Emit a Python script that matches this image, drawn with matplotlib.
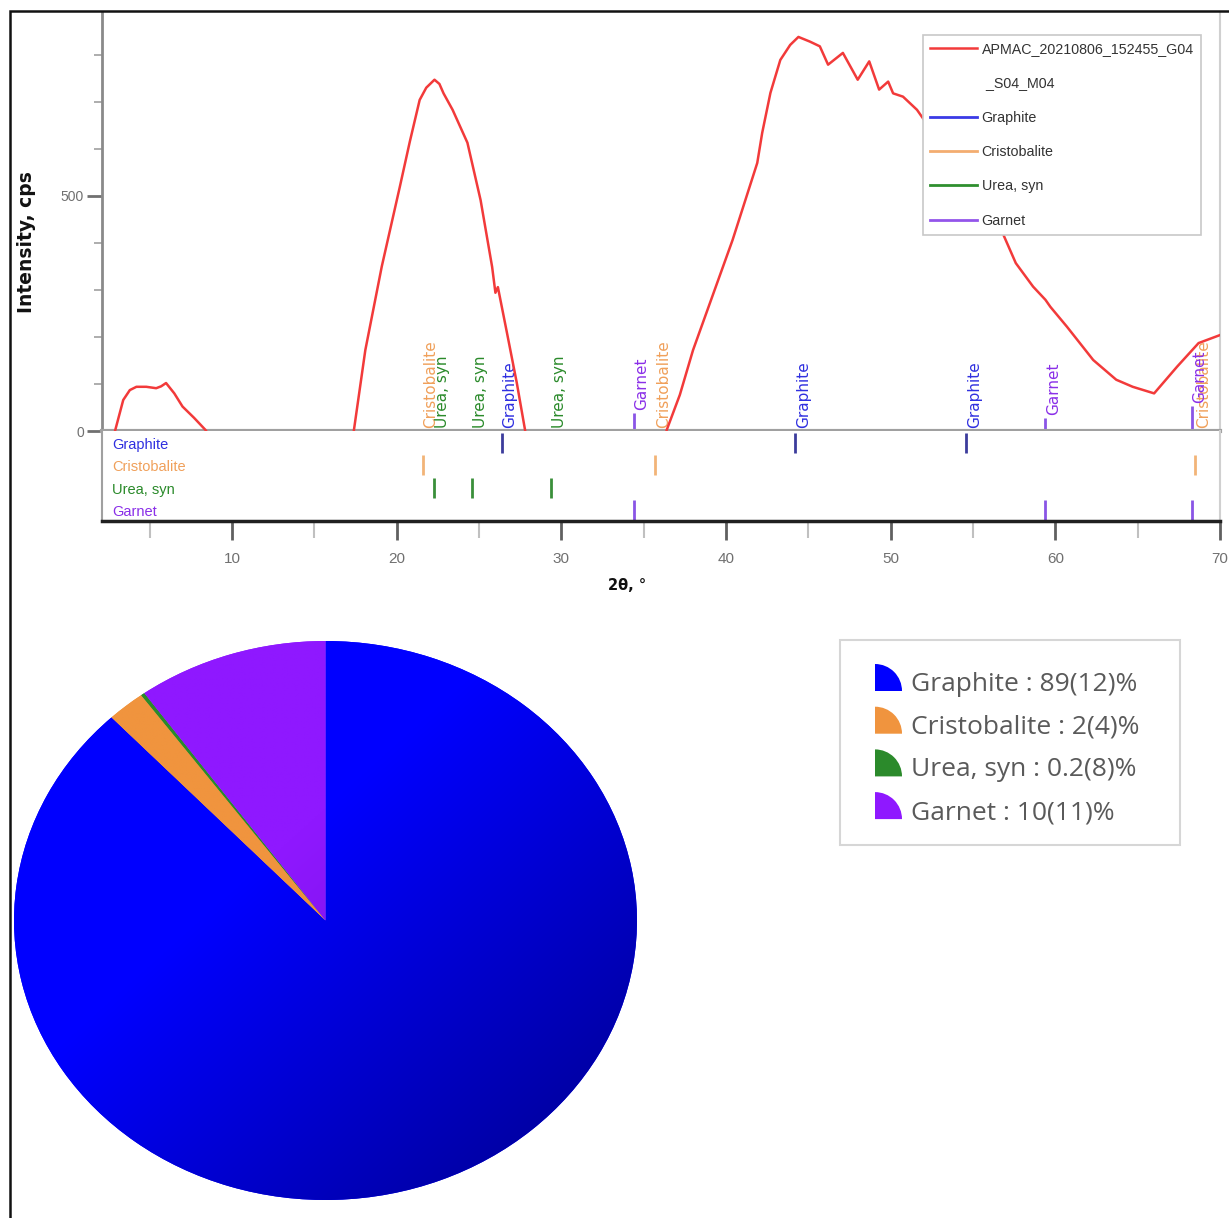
import numpy as np
import matplotlib
matplotlib.use('Agg')
import matplotlib.pyplot as plt
import matplotlib.transforms as mtransforms
from matplotlib.patches import Wedge, Rectangle
from matplotlib.lines import Line2D
from matplotlib.colors import to_rgb

W, H = 1229, 1218

two_theta = [2.6, 2.9, 3.4, 3.8, 4.2, 4.8, 5.4, 5.7, 6.0, 6.5, 7.0, 7.7, 8.4, 8.8,
             17.2, 17.4, 18.1, 19.1, 20.2, 20.8, 21.4, 21.8, 22.3, 22.6, 22.85, 23.4, 24.3,
             25.1, 25.8, 26.0, 26.15, 26.7, 27.3, 27.8, 28.0,
             36.2, 36.4, 37.2, 38.0, 39.2, 40.4, 41.9, 42.2, 42.7, 43.3, 43.9, 44.4,
             45.1, 45.7, 46.2, 47.1, 48.0, 48.7, 49.3, 49.85, 50.15, 50.75, 51.6, 52.6,
             54.0, 55.5, 56.8, 57.6, 58.65, 59.4, 59.7, 60.7, 62.3, 63.7, 64.7, 66.0,
             67.4, 68.7, 70.0]
intensity = [-40, 0, 66, 87, 94, 94, 91, 95, 102, 80, 52, 28, 2, -20,
             -30, 0, 172, 350, 520, 615, 704, 730, 747, 738, 718, 683, 613,
             491, 349, 294, 306, 209, 102, 2, -40,
             -40, 2, 77, 172, 289, 406, 570, 634, 719, 789, 821, 838,
             828, 818, 779, 804, 747, 786, 726, 743, 718, 711, 683, 633,
             570, 490, 421, 357, 307, 279, 264, 222, 151, 109, 94, 80,
             137, 187, 204]

phases = ['Graphite', 'Cristobalite', 'Urea, syn', 'Garnet']
graphite_peaks = [26.4, 44.2, 54.6]
cristobalite_peaks = [21.6, 35.7, 68.5]
urea_peaks = [22.3, 24.6, 29.4]
garnet_peaks = [34.4, 59.4, 68.3]
garnet_heights = [38, 28, 53]

fractions = [89, 2, 0.2, 10]
fraction_labels = ['Graphite : 89(12)%', 'Cristobalite : 2(4)%',
                   'Urea, syn : 0.2(8)%', 'Garnet : 10(11)%']

pattern_name = ['APMAC_20210806_152455_G04', ' _S04_M04']

label_colors = ['#2f2fe0', '#f0a05a', '#2a8a2a', '#8a2fe8']
stick_colors = ['#3c3c9c', '#f2b478', '#3a8f3a', '#8a55e6']
legend_colors = ['#3a3ae6', '#f3ad70', '#2f8f2f', '#9355ea']
pie_light = ['#0000ff', '#f0943e', '#2b8a2b', '#8f18ff']
pie_dark = ['#00009e', '#dd8436', '#1f701f', '#6608cc']

NARROW = 'Liberation Sans'
LEG = 'Open Sans'


def fx(px):
    return px / W


def fy(py):
    return 1 - py / H


fig = plt.figure(figsize=(W / 100, H / 100), dpi=100)

# ---- diffraction pattern ----
ax1 = fig.add_axes([fx(102), fy(431), fx(1220) - fx(102), fy(12) - fy(431)])
ax1.plot(two_theta, intensity, color='#f23a3a', lw=1.8, zorder=3)
ax1.set_xlim(2.11, 70)
ax1.set_ylim(0, 891)

peak_sets = [graphite_peaks, cristobalite_peaks, urea_peaks, garnet_peaks]
for i, (name, peaks) in enumerate(zip(phases, peak_sets)):
    heights = garnet_heights if name == 'Garnet' else [0] * len(peaks)
    ax1.vlines(peaks, 0, heights, color=stick_colors[i], lw=2, zorder=2)
    for p, ht in zip(peaks, heights):
        ax1.annotate(name, xy=(p, ht), xytext=(8, 3), textcoords='offset pixels',
                     rotation=90, ha='center', va='bottom', color=label_colors[i],
                     fontsize=11, zorder=2)

ax1.spines['top'].set_visible(False)
ax1.spines['left'].set_color('#8a8a8a')
ax1.spines['left'].set_linewidth(2)
ax1.spines['bottom'].set_color('#a0a0a0')
ax1.spines['bottom'].set_linewidth(3)
ax1.spines['right'].set_color('#d0d0d0')
ax1.spines['right'].set_linewidth(1.5)
ax1.set_xticks([])
ax1.set_yticks([0, 500])
ax1.set_yticks(np.arange(100, 900, 100), minor=True)
ax1.tick_params(axis='y', which='major', length=11, width=2, color='#707070',
                labelcolor='#707070', labelsize=10, pad=2)
ax1.tick_params(axis='y', which='minor', length=6, width=1.2, color='#a0a0a0')
for lab in ax1.get_yticklabels():
    lab.set_family(NARROW)

handles = [Line2D([], [], color='#f23a3a', lw=1.8), Line2D([], [], color='none')]
handles += [Line2D([], [], color=c, lw=2) for c in legend_colors]
leg = ax1.legend(handles, pattern_name + phases,
                 loc='upper right', bbox_to_anchor=((1201 - 102) / 1118, 1 - (35 - 12) / 419),
                 borderaxespad=0, fancybox=False, framealpha=1, edgecolor='#c8c8c8',
                 prop={'family': NARROW, 'size': 10.3}, handlelength=3.3,
                 handletextpad=0.3, labelspacing=1.42, borderpad=0.5)
leg.get_frame().set_linewidth(1.2)
for t in leg.get_texts():
    t.set_color('#333333')
leg.set_zorder(10)

# ---- reference sticks panel ----
ax2 = fig.add_axes([fx(102), fy(521), fx(1220) - fx(102), fy(431) - fy(521)])
ax2.set_xlim(2.11, 70)
ax2.set_ylim(4, 0)
blend = mtransforms.blended_transform_factory(ax2.transAxes, ax2.transData)
for i, (name, peaks) in enumerate(zip(phases, peak_sets)):
    ax2.vlines(peaks, i + 0.08, i + 0.97, color=stick_colors[i], lw=2)
    ax2.text(0.009, i + 0.62, name, transform=blend, va='center', ha='left',
             color=label_colors[i], fontsize=10.5, family=NARROW)
ax2.spines['top'].set_visible(False)
ax2.spines['right'].set_color('#d0d0d0')
ax2.spines['right'].set_linewidth(1.5)
ax2.spines['left'].set_color('#a0a0a0')
ax2.spines['left'].set_linewidth(1.5)
ax2.spines['bottom'].set_color('#202020')
ax2.spines['bottom'].set_linewidth(2.5)
ax2.set_yticks([])
ax2.set_xticks(np.arange(10, 71, 10))
ax2.set_xticks(np.arange(5, 70, 10), minor=True)
ax2.tick_params(axis='x', which='major', length=14, width=2, color='#606060',
                labelcolor='#707070', labelsize=11, pad=8)
ax2.tick_params(axis='x', which='minor', length=12, width=1.5, color='#c0c0c0')
for lab in ax2.get_xticklabels():
    lab.set_family(NARROW)

fig.text(fx(27), fy(242), 'Intensity, cps', rotation=90, ha='center', va='center',
         fontsize=13.5, weight='bold', color='#111111')
fig.text(fx(627), fy(585), '2θ, °', ha='center', va='center', fontsize=10.5,
         weight='bold', family='DejaVu Sans', color='#111111')

# ---- phase fractions pie ----
axp = fig.add_axes([fx(14), fy(1200), fx(637) - fx(14), fy(641) - fy(1200)])
wedges, _ = axp.pie(fractions, colors=pie_light, startangle=90, counterclock=False,
                    radius=1, wedgeprops=dict(linewidth=0))
gx, gy = np.meshgrid(np.linspace(-1, 1, 400), np.linspace(1, -1, 400))
t = ((gx - gy) / 2 + 1) / 2
shade = np.clip((t - 0.4) / 0.5, 0, 1)[..., None]
for w, c0, c1 in zip(wedges, pie_light, pie_dark):
    img = (1 - shade) * np.array(to_rgb(c0)) + shade * np.array(to_rgb(c1))
    im = axp.imshow(img, extent=(-1, 1, -1, 1), aspect='auto', interpolation='bilinear',
                    zorder=w.get_zorder() + 0.1)
    im.set_clip_path(w)
axp.set_aspect('auto')
axp.set_xlim(-1, 1)
axp.set_ylim(-1, 1)
axp.axis('off')

# ---- overlay: frame and pie legend ----
ov = fig.add_axes([0, 0, 1, 1])
ov.set_xlim(0, W)
ov.set_ylim(H, 0)
ov.axis('off')
ov.patch.set_alpha(0)
ov.plot([10, 10, W], [H, 11, 11], color='#111111', lw=1.8, solid_joinstyle='miter')
ov.add_patch(Rectangle((840, 640), 340, 205, facecolor='white', edgecolor='#d6d6d6', lw=1.5))
for i, lab in enumerate(fraction_labels):
    base = 691 + i * 42.7
    ov.add_patch(Wedge((875, base), 27, -90, 0, facecolor=pie_light[i], edgecolor='none'))
    ov.text(911, base, lab, ha='left', va='baseline', fontsize=19, family=LEG, color='#5a5a5a')

fig.savefig('out.png', dpi=100)
